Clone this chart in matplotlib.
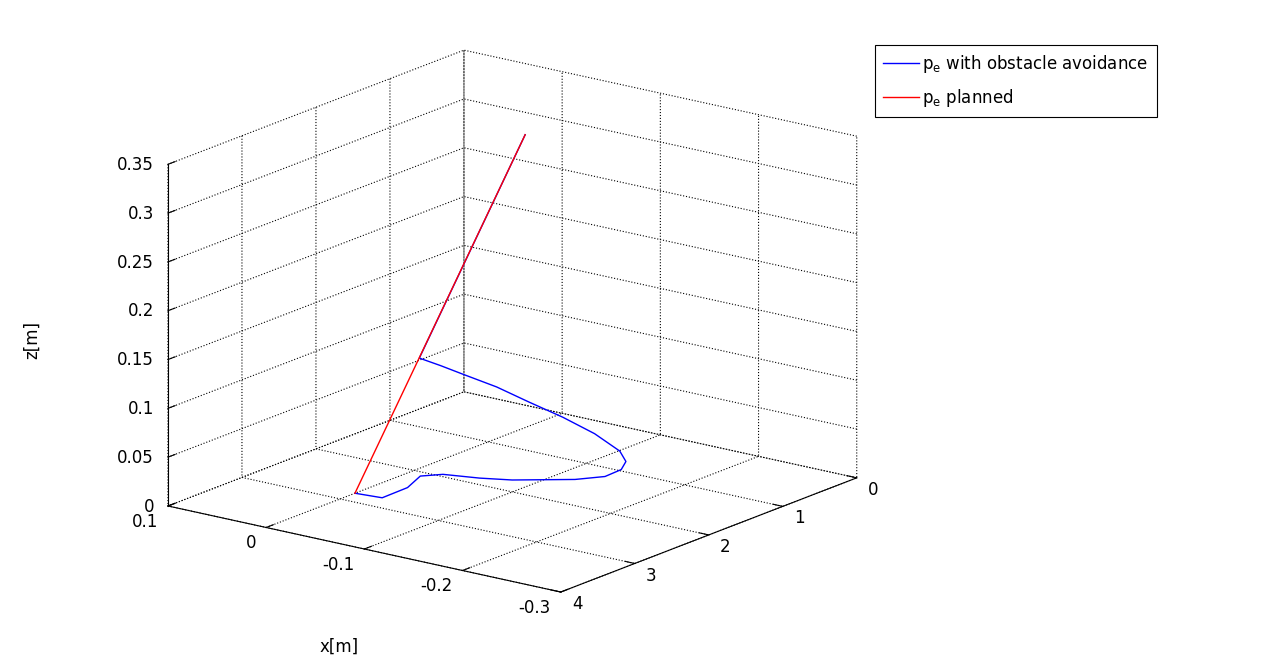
import matplotlib
matplotlib.use("Agg")
import matplotlib.pyplot as plt

# planned straight path of the end effector
plan_x = [0.0, 0.0]
plan_y = [2.80, 0.50]
plan_z = [0.0, 0.30]

# path with obstacle avoidance
avoid_x = [0.000, -0.027, -0.046, -0.053, -0.073, -0.108, -0.139, -0.197, -0.223,
           -0.235, -0.236, -0.226, -0.195, -0.158, -0.121, -0.084, -0.048, -0.023,
           0.000, 0.000]
avoid_y = [2.80, 2.79, 2.70, 2.62, 2.58, 2.55, 2.52, 2.44, 2.38,
           2.32, 2.27, 2.22, 2.15, 2.09, 2.05, 2.00, 1.97, 1.95,
           1.93, 0.50]
avoid_z = [0.000, 0.001, 0.013, 0.024, 0.029, 0.032, 0.036, 0.047, 0.054,
           0.062, 0.069, 0.076, 0.085, 0.092, 0.098, 0.104, 0.108, 0.111,
           0.113, 0.300]

x_ticks = [-0.3, -0.2, -0.1, 0, 0.1]
y_ticks = [0, 1, 2, 3, 4]
z_ticks = [0, 0.05, 0.1, 0.15, 0.2, 0.25, 0.3, 0.35]

plt.rcParams['font.family'] = ['DejaVu Sans']
plt.rcParams['font.size'] = 12
plt.rcParams['grid.linestyle'] = ':'
plt.rcParams['grid.color'] = 'k'
plt.rcParams['grid.linewidth'] = 0.8

fig = plt.figure(figsize=(12.81, 6.60), dpi=100)
ax = fig.add_axes([0.033, 0.0, 0.72, 1.0], projection='3d', proj_type='ortho')
ax.view_init(elev=16.9, azim=127.0)
ax.set_box_aspect((1.0, 1.0, 0.726), zoom=1.15)

ax.plot(avoid_x, avoid_y, avoid_z, color='#0000ff', lw=1.0,
        label=r'$\mathregular{p_e}$ with obstacle avoidance')
ax.plot(plan_x, plan_y, plan_z, color='#ff0000', lw=1.0,
        label=r'$\mathregular{p_e}$ planned')

ax.set_xlim(-0.3, 0.1)
ax.set_ylim(0, 4)
ax.set_zlim(0, 0.35)
ax.set_xticks(x_ticks)
ax.set_yticks(y_ticks)
ax.set_zticks(z_ticks)
ax.set_xticklabels(['-0.3', '-0.2', '-0.1', '0', '0.1'], ha='right', va='center')
ax.set_yticklabels(['0', '1', '2', '3', '4'], ha='left', va='center')
ax.set_zticklabels(['0', '0.05', '0.1', '0.15', '0.2', '0.25', '0.3', '0.35'],
                   ha='right', va='center')
ax.zaxis.set_ticks_position('upper')
ax.zaxis.set_label_position('upper')
ax.xaxis.set_tick_params(pad=0.5)
ax.yaxis.set_tick_params(pad=-1.0)
ax.zaxis.set_tick_params(pad=-3)

for axis in (ax.xaxis, ax.yaxis, ax.zaxis):
    axis.set_pane_color((1, 1, 1, 0))
    axis.pane.set_edgecolor((1, 1, 1, 0))
    axis._axinfo['grid'].update(color='k', linestyle=':', linewidth=0.8)
    axis._axinfo['axisline'].update(color='k', linewidth=0.8)
    axis._axinfo['tick'].update(inward_factor=0.0, outward_factor=0.3)
    axis.line.set_color('k')
    axis.line.set_linewidth(0.8)

fig.text(0.265, 0.02, 'x[m]', ha='center', va='center')
fig.text(0.025, 0.485, 'z[m]', ha='center', va='center', rotation=90)

leg = fig.legend(loc='upper left', bbox_to_anchor=(0.683, 0.932), fancybox=False,
                 edgecolor='k', framealpha=1, handlelength=2.15, borderpad=0.5,
                 labelspacing=0.7, handletextpad=0.2, borderaxespad=0.0)
leg.get_frame().set_linewidth(0.8)

fig.savefig('out.png', dpi=100)
